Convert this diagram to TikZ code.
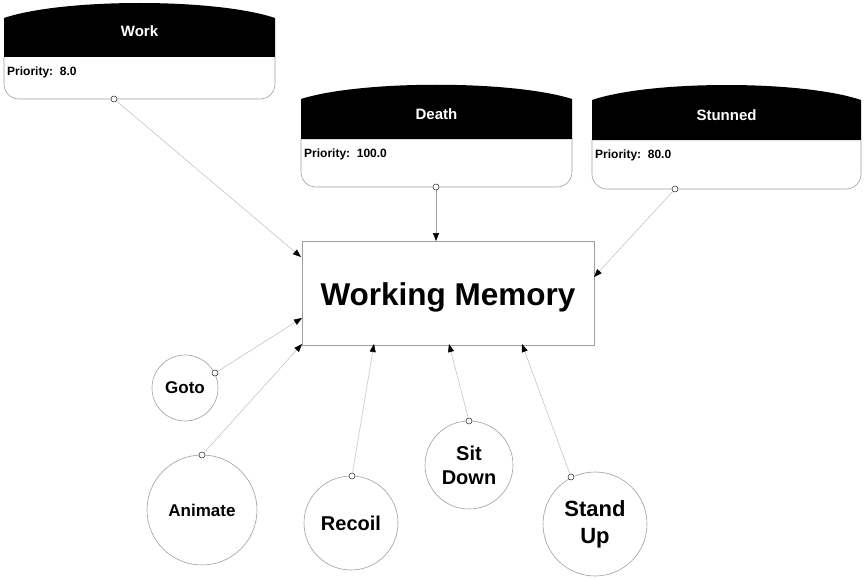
\documentclass[tikz,border=0pt]{standalone}
\usepackage{fontspec}
\setmainfont{Liberation Sans}
\usetikzlibrary{arrows.meta}
\tikzset{
  hdr/.style={fill=black},
  boxline/.style={draw=gray!75,line width=0.6pt},
  titletext/.style={text=white,anchor=base,inner sep=0pt,font=\bfseries\fontsize{15}{18}\selectfont},
  priotext/.style={anchor=base west,inner sep=0pt,font=\bfseries\fontsize{12}{14}\selectfont},
  port/.style={circle,draw=black!85,fill=white,inner sep=0pt,minimum size=6pt,line width=0.5pt},
  tip/.style={-{Triangle[length=8pt,width=6pt,color=black,fill=black]}},
  conn/.style={draw=gray!55,line width=0.45pt,tip},
  connd/.style={draw=gray!75,line width=0.7pt,tip},
  wmbox/.style={draw=gray!75,line width=0.6pt,inner sep=0pt,font=\bfseries\fontsize{31.5}{36}\selectfont},
  beh/.style={circle,draw=gray!75,line width=0.6pt,align=center,inner sep=0pt},
}
\newcommand\stbox[9]{%
  \fill[hdr] (#2,#5) -- (#2,#4) .. controls ({#2+0.22*(#3-#2)},{#4-#9}) and ({#3-0.22*(#3-#2)},{#4-#9}) .. (#3,#4) -- (#3,#5) -- cycle;
  \draw[boxline,rounded corners=15pt] (#2,#5) -- (#2,#6) -- (#3,#6) -- (#3,#5);
  \node[titletext] (#1t) at ({(#2+#3)/2},{#5-20}) {#7};
  \node[priotext] (#1p) at ({#2+3},{#5+18}) {Priority:~~#8};
}
\begin{document}
\begin{tikzpicture}[x=1pt,y=-1pt]
\useasboundingbox (0,0) rectangle (865,578);
\fill[white] (0,0) rectangle (865,578);

\stbox{work}{4}{275}{18}{57}{99}{Work}{8.0}{20}
\stbox{death}{301}{572}{99}{139}{187}{Death}{100.0}{19}
\stbox{stun}{592}{861}{100}{140}{189}{Stunned}{80.0}{20}

\node[draw=gray!75,line width=0.6pt,minimum width=292pt,minimum height=104pt] (wm) at (448,293) {};
\node[wmbox,draw=none,anchor=base] (wmt) at (448,305) {Working Memory};

\node[beh,minimum size=66pt,font=\bfseries\fontsize{17}{20}\selectfont] (goto) at (185,388) {Goto};
\node[beh,minimum size=110pt,font=\bfseries\fontsize{17}{20}\selectfont] (anim) at (202,510) {Animate};
\node[beh,minimum size=94pt,font=\bfseries\fontsize{20}{24}\selectfont] (recoil) at (351,523) {Recoil};
\node[beh,minimum size=88pt,font=\bfseries\fontsize{20}{24}\selectfont] (sit) at (469,465) {Sit\\Down};
\node[beh,minimum size=104pt,font=\bfseries\fontsize{22}{27}\selectfont] (stand) at (595,524) {Stand\\Up};

\coordinate (tWork) at (301,257);
\coordinate (tDeath) at (436,241);
\coordinate (tStun) at (594,277);
\coordinate (tGoto) at (302,318);
\coordinate (tAnim) at (302,344);
\coordinate (tRecoil) at (374,344);
\coordinate (tSit) at (449,344);
\coordinate (tStand) at (522,344);

\node[port] (pWork) at (114,99) {};
\node[port] (pDeath) at (436,187) {};
\node[port] (pStun) at (675,189) {};
\node[port] (pGoto) at (215,373) {};
\node[port] (pAnim) at (202,455) {};
\node[port] (pRecoil) at (352,476) {};
\node[port] (pSit) at (469,421) {};
\node[port] (pStand) at (571,477) {};

\draw[conn] (pWork) -- (tWork);
\draw[connd] (pDeath) -- (tDeath);
\draw[conn] (pStun) -- (tStun);
\draw[conn] (pGoto) -- (tGoto);
\draw[conn] (pAnim) -- (tAnim);
\draw[conn] (pRecoil) -- (tRecoil);
\draw[conn] (pSit) -- (tSit);
\draw[conn] (pStand) -- (tStand);
\end{tikzpicture}
\end{document}
